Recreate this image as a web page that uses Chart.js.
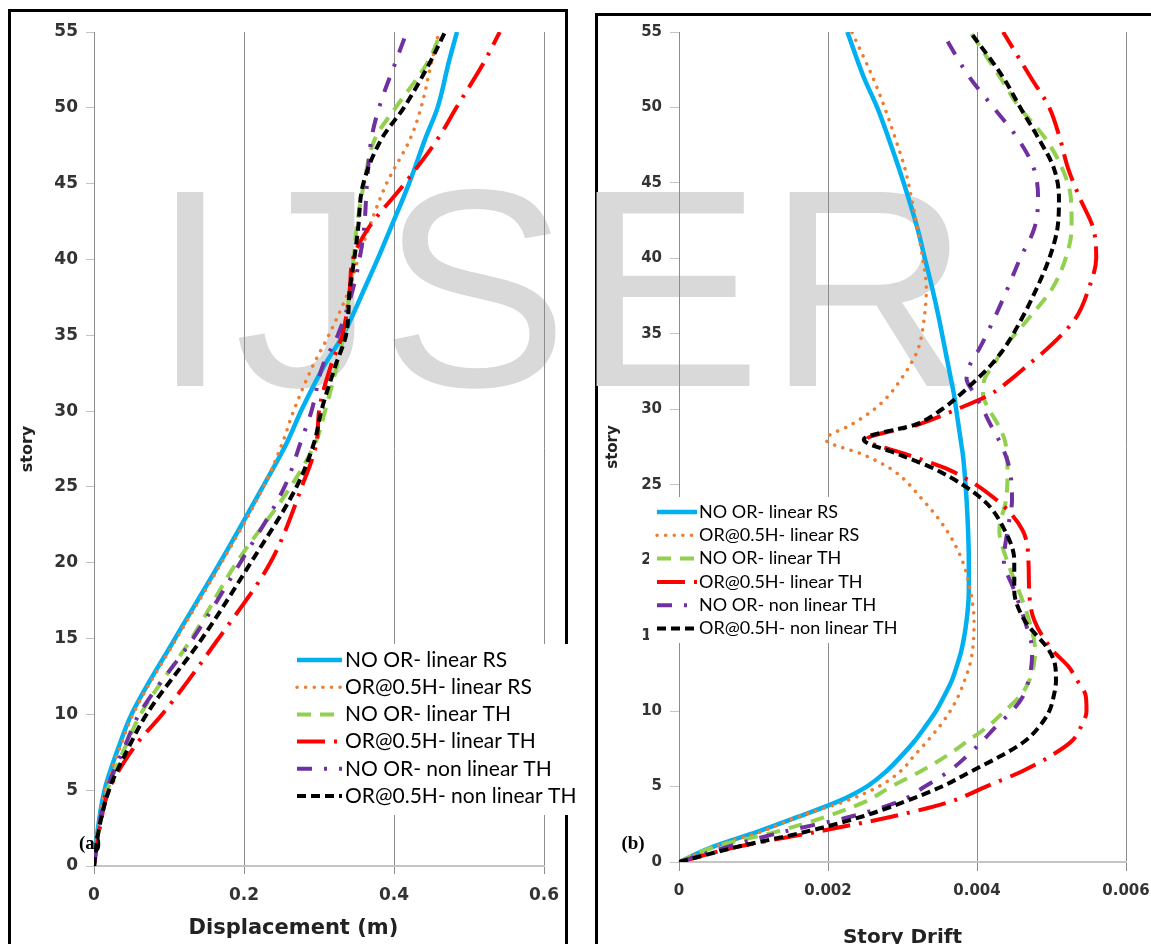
<!DOCTYPE html>
<html><head><meta charset="utf-8">
<script src="https://cdn.jsdelivr.net/npm/chart.js@4.4.0/dist/chart.umd.min.js"></script>
<style>
html,body{margin:0;padding:0;background:#fff;}
body{width:1151px;height:944px;overflow:hidden;position:relative;}
.frame{position:absolute;border:3px solid #000;box-sizing:border-box;}
#frameA{left:8px;top:9px;width:560px;height:1000px;}
#frameB{left:595px;top:13px;width:620px;height:1000px;}
#wm{position:absolute;left:151px;top:148px;font-family:"Liberation Sans",Arial,sans-serif;font-size:282px;line-height:282px;letter-spacing:5px;color:#d9d9d9;white-space:nowrap;}
canvas{position:absolute;top:0;}
#cA{left:0;width:585px;height:960px;}
#cB{left:590px;width:600px;height:960px;}
.tag{position:absolute;font-family:"Liberation Serif",serif;font-weight:bold;font-size:19px;transform:translate(-50%,-50%);color:#000;}
</style></head>
<body>
<div class="frame" id="frameA"></div>
<div class="frame" id="frameB"></div>
<div id="wm">IJSER</div>
<canvas id="cA" width="585" height="960"></canvas>
<canvas id="cB" width="600" height="960"></canvas>
<div class="tag" style="left:90px;top:843px">(a)</div>
<div class="tag" style="left:633px;top:843px">(b)</div>
<script>
// ---------- data ----------
const seriesLabels = ['NO OR- linear RS','OR@0.5H- linear RS','NO OR- linear TH','OR@0.5H- linear TH','NO OR- non linear TH','OR@0.5H- non linear TH'];

// panel (a): displacement (m) vs story
const storiesA = [0,2,5,8,10,15,20,25,28,30,33,35,38,40,42,45,48,50,53,55];
const dispNoOrRS = [0,0.004,0.014,0.034,0.05,0.108,0.168,0.225,0.258,0.276,0.307,0.332,0.36,0.378,0.395,0.42,0.442,0.458,0.473,0.484];
const dispOrRS   = [0,0.004,0.015,0.036,0.052,0.11,0.17,0.226,0.252,0.266,0.292,0.313,0.34,0.352,0.366,0.39,0.422,0.436,0.45,0.46];
const dispNoOrTH = [0,0.005,0.018,0.043,0.062,0.13,0.19,0.262,0.296,0.308,0.324,0.333,0.341,0.346,0.35,0.36,0.375,0.402,0.445,0.463];
const dispOrTH   = [0,0.006,0.02,0.056,0.091,0.166,0.235,0.277,0.297,0.30,0.316,0.331,0.341,0.345,0.365,0.414,0.459,0.483,0.52,0.541];
const dispNoOrNL = [0,0.005,0.017,0.042,0.06,0.132,0.195,0.254,0.276,0.29,0.305,0.325,0.345,0.354,0.36,0.364,0.37,0.38,0.402,0.417];
const dispOrNL   = [0,0.005,0.02,0.048,0.07,0.144,0.209,0.27,0.294,0.303,0.322,0.336,0.341,0.347,0.352,0.359,0.384,0.413,0.448,0.468];

// panel (b): story drift vs story
const storiesB = [0,1,2,3,4,5,6,7,8,9,10,11,12,13,14,16,18,20,22,24,26,27,28,29,30,31,32,33,34,36,38,40,42,44,46,48,50,52,55];
const driftNoOrRS = [0,0.00045,0.00105,0.0016,0.00213,0.00252,0.00278,0.00298,0.00316,0.00331,0.00345,0.00356,0.00366,0.00373,0.00379,0.00386,0.00389,0.00389,0.00388,0.00386,0.00383,0.00381,0.00378,0.00375,0.00372,0.00369,0.00365,0.00361,0.00357,0.00349,0.0034,0.0033,0.0032,0.00308,0.00295,0.00281,0.00266,0.00248,0.00226];
const driftOrRS   = [0,0.00045,0.0011,0.0016,0.00222,0.00268,0.00297,0.00315,0.00333,0.0035,0.00364,0.00375,0.00383,0.0039,0.00394,0.00396,0.00391,0.0038,0.00359,0.00327,0.00286,0.00247,0.00197,0.00232,0.00262,0.00283,0.00298,0.00311,0.00321,0.00329,0.00332,0.00327,0.0032,0.00312,0.00303,0.0029,0.00276,0.0026,0.00232];
const driftNoOrTH = [0,0.00048,0.0013,0.00197,0.0025,0.00285,0.00324,0.00358,0.00387,0.00415,0.00437,0.00458,0.0047,0.00476,0.00478,0.0047,0.00456,0.0044,0.0043,0.00439,0.00441,0.0044,0.00437,0.00428,0.00416,0.00408,0.0041,0.00423,0.00435,0.00469,0.00501,0.00519,0.00527,0.00526,0.00514,0.00491,0.00457,0.00431,0.00391];
const driftOrTH   = [0,0.00078,0.00185,0.00285,0.00364,0.00412,0.0046,0.00498,0.00527,0.0054,0.00547,0.00546,0.00535,0.00522,0.00502,0.00477,0.0047,0.00469,0.00461,0.00426,0.00362,0.00306,0.00252,0.00322,0.00373,0.00418,0.00446,0.0047,0.00494,0.00532,0.0055,0.0056,0.00556,0.00538,0.00522,0.00511,0.00497,0.00472,0.00435];
const driftNoOrNL = [0,0.00065,0.0014,0.0023,0.00295,0.0033,0.00362,0.00386,0.00407,0.00426,0.00447,0.00462,0.00469,0.00473,0.00474,0.00464,0.0045,0.00436,0.00441,0.00447,0.00444,0.00438,0.00429,0.00418,0.00408,0.00397,0.00386,0.00391,0.00403,0.00423,0.00441,0.00458,0.00477,0.00482,0.00476,0.00454,0.00422,0.0039,0.00353];
const driftOrNL   = [0,0.00078,0.0017,0.00245,0.00303,0.00353,0.00392,0.00431,0.00464,0.00484,0.00497,0.00503,0.00506,0.00505,0.00497,0.00464,0.0045,0.0045,0.00437,0.00408,0.00345,0.00296,0.00248,0.00318,0.00353,0.00378,0.004,0.0042,0.00436,0.0046,0.0048,0.00497,0.00508,0.0051,0.00503,0.00482,0.00458,0.00435,0.00391];

// ticks
const storyTicks = [0,5,10,15,20,25,30,35,40,45,50,55];
const storyTickLabels = ['0','5','10','15','20','25','30','35','40','45','50','55'];
const dispTicks = [0,0.2,0.4,0.6];
const dispTickLabels = ['0','0.2','0.4','0.6'];
const driftTicks = [0,0.002,0.004,0.006];
const driftTickLabels = ['0','0.002','0.004','0.006'];

// ---------- styles ----------
const styles = [
  {color:'#00b0f0', width:4.5, dash:[], cap:'butt'},
  {color:'#ed7d31', width:3.5, dash:[0.1,8.5], cap:'round'},
  {color:'#92d050', width:4, dash:[14,9], cap:'butt'},
  {color:'#ff0000', width:4, dash:[28,9,3,9], cap:'butt'},
  {color:'#7030a0', width:4, dash:[15,12,3,12], cap:'butt'},
  {color:'#000000', width:4, dash:[9,5], cap:'butt'}
];

function makeDatasets(stories, seriesList){
  return seriesList.map((vals,i)=>({
    label: seriesLabels[i],
    data: stories.map((s,k)=>({x: vals[k], y: s})),
    borderColor: styles[i].color,
    borderWidth: styles[i].width,
    borderDash: styles[i].dash,
    borderCapStyle: styles[i].cap,
    pointRadius: 0,
    fill: false,
    cubicInterpolationMode: 'monotone',
    order: 5 - i
  }));
}

const boxLegend = {
  id: 'boxLegend',
  afterDatasetsDraw(chart, args, o){
    const ctx = chart.ctx;
    ctx.save();
    ctx.fillStyle = '#fff';
    ctx.fillRect(o.x, o.y, o.w, o.h);
    chart.data.datasets.forEach((ds,i)=>{
      const y = o.row0 + i*o.rowH;
      ctx.beginPath();
      ctx.setLineDash(ds.borderDash || []);
      ctx.lineCap = ds.borderCapStyle || 'butt';
      ctx.strokeStyle = ds.borderColor;
      ctx.lineWidth = ds.borderWidth;
      ctx.moveTo(o.lx0, y); ctx.lineTo(o.lx1, y); ctx.stroke();
      ctx.setLineDash([]);
      ctx.fillStyle = '#000';
      ctx.font = o.font;
      ctx.textBaseline = 'middle';
      ctx.textAlign = 'left';
      ctx.fillText(ds.label, o.tx, y);
    });
    ctx.restore();
  }
};

function makeChart(id, datasets, c){
  const tickFont = {family:'DejaVu Sans', size:c.tickSize, weight:'bold'};
  return new Chart(document.getElementById(id), {
    type: 'line',
    data: {datasets},
    options: {
      indexAxis: 'y',
      responsive: false,
      animation: false,
      devicePixelRatio: 1,
      layout: {padding: {left:0, top:32, right:c.right, bottom:0}},
      plugins: {legend:{display:false}, tooltip:{enabled:false}, boxLegend: c.legend},
      scales: {
        x: {
          type:'linear', min:0, max:c.xMax,
          afterBuildTicks: s => { s.ticks = c.xTicks.map(v=>({value:v})); },
          afterFit: s => { s.height = c.xAxisH; },
          ticks: {callback:(v,i)=>c.xLabels[i], font:tickFont, color:'#333', padding:c.xTickPad, maxRotation:0, autoSkip:false},
          grid: {color:'#8c8c8c', lineWidth:1, tickLength:c.tl, drawTicks:true},
          border: {display:true, color:'#c4c4c4', width:2},
          title: {display:true, text:c.xTitle, color:'#222', font:{family:'DejaVu Sans', size:c.xTitleSize, weight:'bold'}, padding:{top:0, bottom:c.xTitlePad}}
        },
        y: {
          type:'linear', min:0, max:55,
          afterBuildTicks: s => { s.ticks = storyTicks.map(v=>({value:v})); },
          afterFit: s => { s.width = c.yAxisW; },
          ticks: {callback:(v,i)=>storyTickLabels[i], font:tickFont, color:'#333', padding:8, autoSkip:false},
          grid: {drawOnChartArea:false, drawTicks:true, tickLength:c.tl, color:'#c4c4c4'},
          border: {display:true, color:'#8c8c8c', width:1},
          title: {display:true, text:'story', color:'#222', font:{family:'DejaVu Sans', size:c.yTitleSize, weight:'bold'}, padding:{top:c.yTitlePad, bottom:0}}
        }
      }
    },
    plugins: [boxLegend]
  });
}

makeChart('cA', makeDatasets(storiesA, [dispNoOrRS, dispOrRS, dispNoOrTH, dispOrTH, dispNoOrNL, dispOrNL]), {
  right:41, xMax:0.6, xTicks:dispTicks, xLabels:dispTickLabels, xAxisH:94, xTickPad:11, tl:8, tickSize:17,
  xTitle:'Displacement (m)\u00a0\u00a0\u00a0\u00a0\u00a0\u00a0\u00a0', xTitleSize:21, xTitlePad:19, yAxisW:94, yTitleSize:16, yTitlePad:18,
  legend:{x:284, y:644, w:296, h:171, row0:660, rowH:27.2, lx0:297, lx1:342, tx:345, font:'21px Lato'}
});

makeChart('cB', makeDatasets(storiesB, [driftNoOrRS, driftOrRS, driftNoOrTH, driftOrTH, driftNoOrNL, driftOrNL]), {
  right:64, xMax:0.006, xTicks:driftTicks, xLabels:driftTickLabels, xAxisH:98, xTickPad:11, tl:9, tickSize:15,
  xTitle:'Story Drift', xTitleSize:20, xTitlePad:10, yAxisW:89, yTitleSize:15, yTitlePad:14,
  legend:{x:59, y:497, w:256, h:146, row0:512, rowH:23.3, lx0:67, lx1:107, tx:109, font:'18px Lato'}
});
</script>
</body></html>
